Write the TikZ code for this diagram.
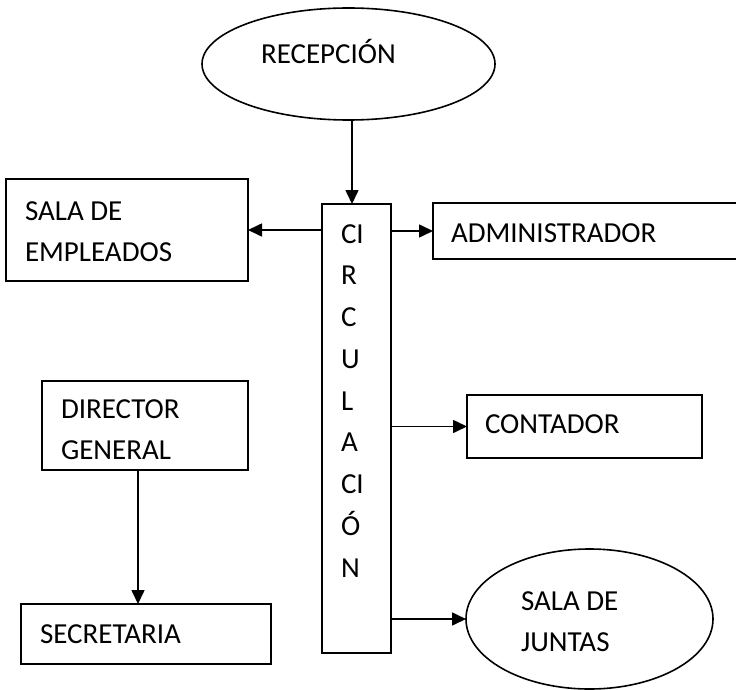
\documentclass[tikz,border=0pt]{standalone}
\usepackage{fontspec}
\setmainfont{Carlito}
\usetikzlibrary{shapes.geometric,arrows.meta}
\tikzset{
  shp/.style={draw=black, line width=1.6pt, inner sep=0pt, outer sep=0pt},
  box/.style={shp, rectangle},
  oval/.style={shp, ellipse},
  txt/.style={inner sep=0pt, outer sep=0pt, align=left, font=\fontsize{29}{40.5}\selectfont},
  arr/.style={line width=1.6pt, -{Triangle[length=14pt,width=13pt]}},
}
\begin{document}
\begin{tikzpicture}[x=1pt,y=-1pt]
\useasboundingbox (0,0) rectangle (736,690);
% shapes
\node[oval, minimum width=293pt, minimum height=112pt] (recep) at (348.5,64) {};
\node[box, minimum width=69pt, minimum height=449pt] (circ) at (356.5,428.5) {};
\node[box, minimum width=242pt, minimum height=102pt] (sala) at (127,230) {};
\node[box, minimum width=307pt, minimum height=56pt] (admin) at (586.5,231) {};
\node[box, minimum width=206pt, minimum height=89pt] (dir) at (145,425.5) {};
\node[box, minimum width=250pt, minimum height=60pt] (sec) at (146,634) {};
\node[box, minimum width=235pt, minimum height=63pt] (cont) at (584.5,426.5) {};
\node[oval, minimum width=247pt, minimum height=140pt] (juntas) at (589.5,619) {};
% texts
\node[txt, anchor=base west] (trecep) at (261,64) {RECEPCIÓN};
\node[txt, anchor=north west] (tsala) at (25,202) {SALA DE\\EMPLEADOS};
\node[txt, anchor=base west] (tadmin) at (451,242) {ADMINISTRADOR};
\node[txt, anchor=north west] (tdir) at (61,400) {DIRECTOR\\GENERAL};
\node[txt, anchor=base west] (tsec) at (40,643) {SECRETARIA};
\node[txt, anchor=base west] (tcont) at (485,433) {CONTADOR};
\node[txt, anchor=north west] (tjuntas) at (521,592) {SALA DE\\JUNTAS};
\foreach \t [count=\i from 0] in {CI,R,C,U,L,A,CI,Ó,N}
  \node[txt, anchor=base west] (col\i) at (341,{243+41.75*\i}) {\t};
% connectors
\coordinate (ax) at (352,0);
\coordinate (dx) at (138,0);
\draw[arr] (recep.south -| ax) -- (circ.north -| ax);
\draw[arr] (circ.west |- sala.east) -- (sala.east);
\draw[arr] (circ.east |- admin.west) -- (admin.west);
\draw[arr] (circ.east |- cont.west) -- (cont.west);
\draw[arr] (circ.east |- juntas.west) -- (juntas.west);
\draw[arr] (dir.south -| dx) -- (sec.north -| dx);
\end{tikzpicture}
\end{document}
